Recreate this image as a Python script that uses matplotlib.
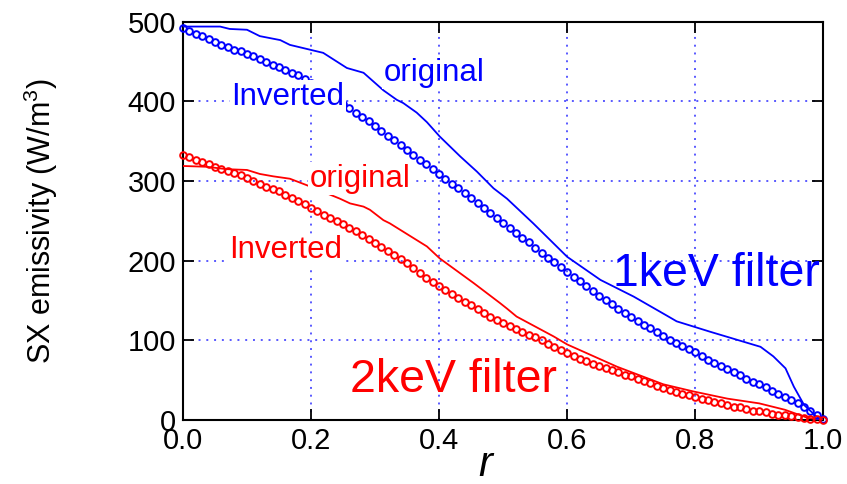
import numpy as np
import matplotlib
matplotlib.use("Agg")
import matplotlib.pyplot as plt

plt.rcParams['font.family'] = ['Liberation Sans', 'DejaVu Sans']
plt.rcParams['mathtext.fontset'] = 'custom'
plt.rcParams['mathtext.rm'] = 'Liberation Sans'
plt.rcParams['mathtext.it'] = 'Liberation Sans:italic'

# ---- data ----
r_inv = np.linspace(0, 1, 101)

inv_1kev = [492, 489, 485, 482, 478, 475, 471, 468, 465, 463,
            460, 457, 453, 450, 446, 443, 440, 436, 433, 428,
            423, 418, 413, 407, 402, 397, 392, 386, 381, 375,
            369, 363, 357, 351, 345, 339, 333, 327, 321, 315,
            309, 303, 297, 291, 285, 279, 273, 266, 260, 254,
            248, 241, 235, 229, 223, 216, 210, 204, 198, 192,
            186, 180, 174, 168, 162, 156, 151, 146, 140, 135,
            130, 125, 120, 115, 110, 105, 101, 97, 93, 89,
            85, 81, 76, 72, 68, 64, 60, 56, 52, 48,
            45, 41, 37, 33, 29, 25, 21, 17, 12, 7, 2]

inv_2kev = [333, 330, 327, 324, 321, 318, 315, 313, 310, 308,
            304, 300, 296, 293, 290, 287, 283, 279, 275, 271,
            266, 262, 258, 254, 250, 246, 241, 237, 232, 227,
            222, 217, 212, 207, 202, 197, 191, 185, 179, 173,
            168, 163, 158, 153, 148, 144, 139, 135, 130, 126,
            122, 118, 114, 110, 107, 104, 100, 96, 92, 88,
            84, 81, 77, 74, 71, 68, 65, 63, 60, 57,
            55, 52, 49, 46, 43, 40, 38, 35, 33, 31,
            29, 27, 25, 23, 21, 19, 17, 16, 14, 12,
            11, 10, 8, 7, 6, 5, 4, 3, 2, 1, 0]

r_orig1 = [0.0, 0.058, 0.073, 0.1, 0.12, 0.152, 0.167, 0.193, 0.219, 0.256,
           0.282, 0.313, 0.334, 0.344, 0.365, 0.381, 0.401, 0.433, 0.459, 0.485,
           0.506, 0.547, 0.6, 0.652, 0.704, 0.756, 0.771, 0.823, 0.902, 0.922,
           0.941, 0.954, 0.97, 0.99, 1.0]
orig_1kev = [494, 494, 491, 490, 482, 477, 471, 466, 461, 442,
             436, 414, 402, 398, 386, 374, 356, 331, 312, 291,
             278, 247, 205, 176, 155, 131, 124, 111, 92, 80,
             65, 42, 19, 4, 1]

r_orig2 = [0.0, 0.037, 0.068, 0.1, 0.12, 0.141, 0.167, 0.193, 0.245, 0.261,
           0.282, 0.292, 0.313, 0.323, 0.381, 0.401, 0.454, 0.495, 0.506, 0.521,
           0.579, 0.6, 0.678, 0.75, 0.797, 0.85, 0.9, 0.94, 0.975, 1.0]
orig_2kev = [319, 318, 315, 314, 309, 306, 303, 295, 278, 272,
             268, 264, 251, 247, 218, 203, 172, 147, 140, 130,
             105, 95, 67, 45, 36, 27, 21, 13, 3, 0]

xticks = [0.0, 0.2, 0.4, 0.6, 0.8, 1.0]
xticklabels = ["0.0", "0.2", "0.4", "0.6", "0.8", "1.0"]
yticks = [0, 100, 200, 300, 400, 500]

BLUE = (0, 0, 1)
RED = (1, 0, 0)

fig = plt.figure(figsize=(8.47, 4.84), dpi=100)
ax = fig.add_axes([0.216, 0.132, 0.756, 0.823])

ax.plot(r_orig1, orig_1kev, color=BLUE, lw=1.3, zorder=3)
ax.plot(r_orig2, orig_2kev, color=RED, lw=1.3, zorder=3)
ax.plot(r_inv, inv_1kev, 'o', mfc='none', mec=BLUE, ms=4.8, mew=1.4, zorder=3, clip_on=False)
ax.plot(r_inv, inv_2kev, 'o', mfc='none', mec=RED, ms=4.8, mew=1.4, zorder=3, clip_on=False)

ax.set_xlim(0, 1)
ax.set_ylim(0, 500)
ax.set_xticks(xticks)
ax.set_xticklabels(xticklabels)
ax.set_yticks(yticks)
ax.tick_params(direction='in', length=8, width=1.3, top=True, right=True,
               labelsize=21, pad=5)
for s in ax.spines.values():
    s.set_linewidth(1.5)
ax.grid(True, color=(0.35, 0.35, 1.0), linestyle=(0, (1, 3)), lw=1.4)
ax.set_axisbelow(True)

ax.set_ylabel("SX emissivity (W/m$^3$)", fontsize=22)
ax.yaxis.set_label_coords(-0.192, 0.5)
ax.set_xlabel("$r$", fontsize=30)
ax.xaxis.set_label_coords(0.475, -0.062)

bb = dict(facecolor='white', edgecolor='none', pad=1.0)
ax.text(0.313, 426, "original", color=BLUE, fontsize=22.5, ha='left', va='baseline', bbox=bb, zorder=5)
ax.text(0.076, 396, "Inverted", color=BLUE, fontsize=22.5, ha='left', va='baseline', bbox=bb, zorder=5)
ax.text(0.198, 293, "original", color=RED, fontsize=22.5, ha='left', va='baseline', bbox=bb, zorder=5)
ax.text(0.072, 203, "Inverted", color=RED, fontsize=22.5, ha='left', va='baseline', bbox=bb, zorder=5)
ax.text(0.672, 168, "1keV filter", color=BLUE, fontsize=33.5, ha='left', va='baseline', zorder=5)
ax.text(0.261, 35.6, "2keV filter", color=RED, fontsize=33.5, ha='left', va='baseline', zorder=5)

fig.savefig("out.png", dpi=100)
